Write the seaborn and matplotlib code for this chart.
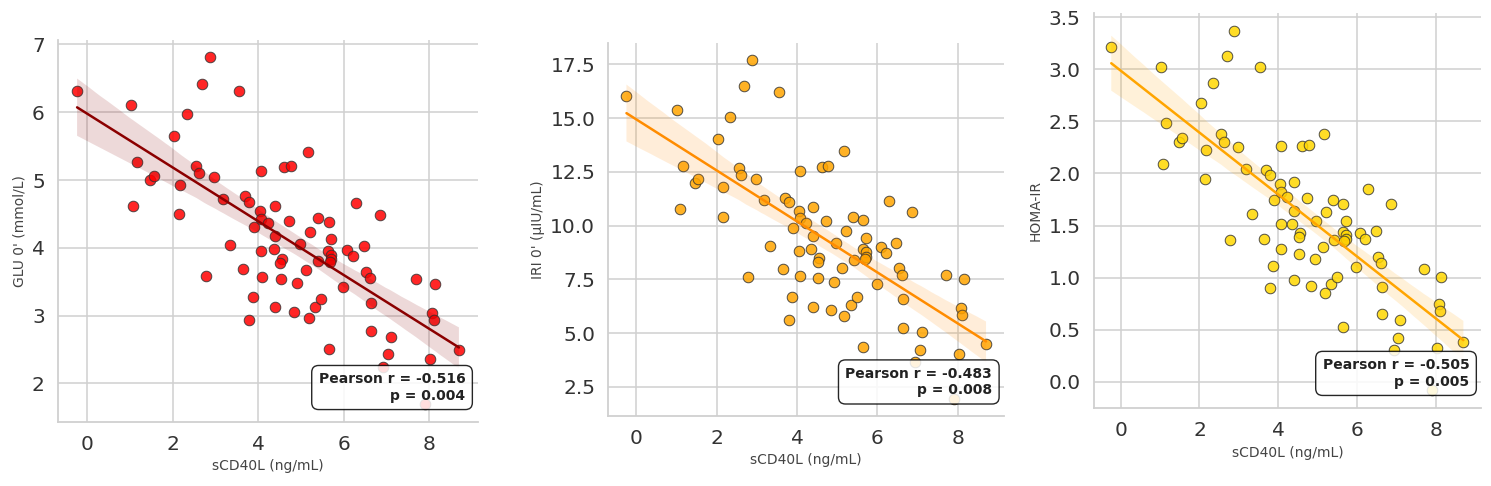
import numpy as np
import pandas as pd
import matplotlib
matplotlib.use("Agg")
import matplotlib.pyplot as plt
from matplotlib.ticker import MultipleLocator, FormatStrFormatter
import seaborn as sns

# ---- data ----
scd40l = [-0.24, 1.02, 1.16, 1.47, 1.55, 1.08, 2.04, 2.34, 2.17, 2.15,
          2.55, 2.61, 2.69, 2.88, 2.97, 3.18, 3.33, 2.78, 3.54, 3.70,
          3.79, 3.65, 3.90, 3.87, 3.79, 4.07, 4.04, 4.07, 4.06, 4.08,
          4.23, 4.39, 4.40, 4.36, 4.55, 4.52, 4.53, 4.40, 4.61, 4.78,
          4.72, 4.84, 4.92, 4.97, 5.17, 5.21, 5.13, 5.18, 5.34, 5.48,
          5.39, 5.41, 5.65, 5.71, 5.64, 5.71, 5.71, 5.68, 5.65, 5.98,
          6.08, 6.21, 6.28, 6.47, 6.53, 6.61, 6.64, 6.63, 6.85, 7.05,
          7.10, 6.93, 7.70, 8.14, 8.07, 8.11, 8.03, 8.70, 7.91]

glu0 = [6.32, 6.10, 5.26, 5.00, 5.06, 4.62, 5.65, 5.97, 4.93, 4.50,
        5.21, 5.10, 6.42, 6.81, 5.04, 4.72, 4.04, 3.59, 6.32, 4.76,
        4.68, 3.69, 4.30, 3.27, 2.94, 5.14, 4.55, 4.43, 3.95, 3.57,
        4.36, 4.61, 4.17, 3.98, 3.84, 3.78, 3.54, 3.12, 5.19, 5.20,
        4.39, 3.06, 3.48, 4.05, 5.42, 4.23, 3.67, 2.96, 3.13, 3.24,
        4.44, 3.80, 4.38, 4.13, 3.95, 3.89, 3.83, 3.79, 2.50, 3.42,
        3.97, 3.88, 4.66, 4.03, 3.64, 3.55, 3.18, 2.77, 4.49, 2.44,
        2.69, 2.24, 3.54, 3.46, 3.04, 2.93, 2.36, 2.49, 1.69]

iri0 = [16.02, 15.40, 12.79, 11.98, 12.18, 10.78, 14.02, 15.04, 11.79, 10.41,
        12.68, 12.34, 16.49, 17.70, 12.17, 11.19, 9.06, 7.62, 16.22, 11.29,
        11.08, 7.98, 9.91, 6.69, 5.63, 12.54, 10.70, 10.35, 8.82, 7.64,
        10.11, 10.89, 9.52, 8.93, 8.48, 8.29, 7.55, 6.24, 12.71, 12.80,
        10.24, 6.07, 7.39, 9.18, 13.46, 9.76, 8.01, 5.82, 6.30, 6.68,
        10.41, 8.40, 10.25, 9.44, 8.90, 8.76, 8.56, 8.43, 4.34, 7.27,
        9.01, 8.71, 11.15, 9.18, 8.01, 7.70, 6.57, 5.25, 10.64, 4.23,
        5.06, 3.66, 7.70, 7.50, 6.18, 5.84, 4.05, 4.51, 1.95]

homa = [3.21, 3.02, 2.48, 2.30, 2.34, 2.09, 2.68, 2.87, 2.23, 1.95,
        2.38, 2.30, 3.13, 3.37, 2.25, 2.04, 1.61, 1.36, 3.02, 2.03,
        1.99, 1.37, 1.75, 1.11, 0.90, 2.26, 1.90, 1.82, 1.52, 1.28,
        1.77, 1.92, 1.64, 1.52, 1.43, 1.39, 1.23, 0.98, 2.26, 2.27,
        1.76, 0.92, 1.18, 1.54, 2.38, 1.63, 1.29, 0.85, 0.94, 1.01,
        1.75, 1.36, 1.71, 1.54, 1.44, 1.41, 1.37, 1.35, 0.53, 1.10,
        1.43, 1.37, 1.85, 1.45, 1.20, 1.14, 0.91, 0.65, 1.71, 0.42,
        0.59, 0.31, 1.08, 1.01, 0.75, 0.68, 0.33, 0.38, -0.08]

x_label = "sCD40L (ng/mL)"
y_labels = ["GLU 0' (mmol/L)", "IRI 0' (\u03bcIU/mL)", "HOMA-IR"]
pearson_r = ["-0.516", "-0.483", "-0.505"]
p_values = ["0.004", "0.008", "0.005"]
y_tick_steps = [1.0, 2.5, 0.5]
y_tick_formats = ["%d", "%.1f", "%.1f"]
point_colors = ["#ff0000", "#ffa500", "#ffd700"]
line_colors = ["#8b0000", "#ff8c00", "#ffa500"]

df = pd.DataFrame({"x": scd40l, "glu": glu0, "iri": iri0, "homa": homa})
y_cols = ["glu", "iri", "homa"]

sns.set_theme(style="whitegrid")
plt.rcParams["font.family"] = ["DejaVu Sans"]

fig = plt.figure(figsize=(14.91, 4.86), dpi=100)
positions = [
    [0.0389, 0.1323, 0.2817, 0.7854],
    [0.4081, 0.1447, 0.2653, 0.7663],
    [0.7335, 0.1599, 0.2598, 0.8140],
]

for i in range(3):
    ax = fig.add_axes(positions[i])
    sns.regplot(data=df, x="x", y=y_cols[i], ax=ax, seed=0,
                scatter_kws=dict(s=58, color=point_colors[i], alpha=0.85,
                                 edgecolor="#333333", linewidths=0.7),
                line_kws=dict(color=line_colors[i], lw=1.8))
    # recolour CI band
    for coll in ax.collections[1:]:
        coll.set_facecolor(line_colors[i])
        coll.set_alpha(0.15)
        coll.set_edgecolor("none")
    ax.yaxis.set_major_locator(MultipleLocator(y_tick_steps[i]))
    ax.yaxis.set_major_formatter(FormatStrFormatter(y_tick_formats[i]))
    ax.xaxis.set_major_locator(MultipleLocator(2))
    ax.set_xlabel(x_label, fontsize=10, color="#444444")
    ax.set_ylabel(y_labels[i], fontsize=10, color="#444444")
    ax.tick_params(axis="both", labelsize=14.5, colors="#333333")
    ax.grid(True, color="#d0d0d0", linewidth=1.1)
    sns.despine(ax=ax)
    for s in ["left", "bottom"]:
        ax.spines[s].set_color("#d0d0d0")
        ax.spines[s].set_linewidth(1.3)
    ax.text(0.97, 0.05, f"Pearson r = {pearson_r[i]}\np = {p_values[i]}",
            transform=ax.transAxes, ha="right", va="bottom",
            multialignment="right", fontsize=10, fontweight="bold",
            color="#222222", zorder=5,
            bbox=dict(boxstyle="round,pad=0.5", facecolor="white",
                      edgecolor="black", alpha=0.85, linewidth=1.0))

fig.savefig("out.png", dpi=100)
